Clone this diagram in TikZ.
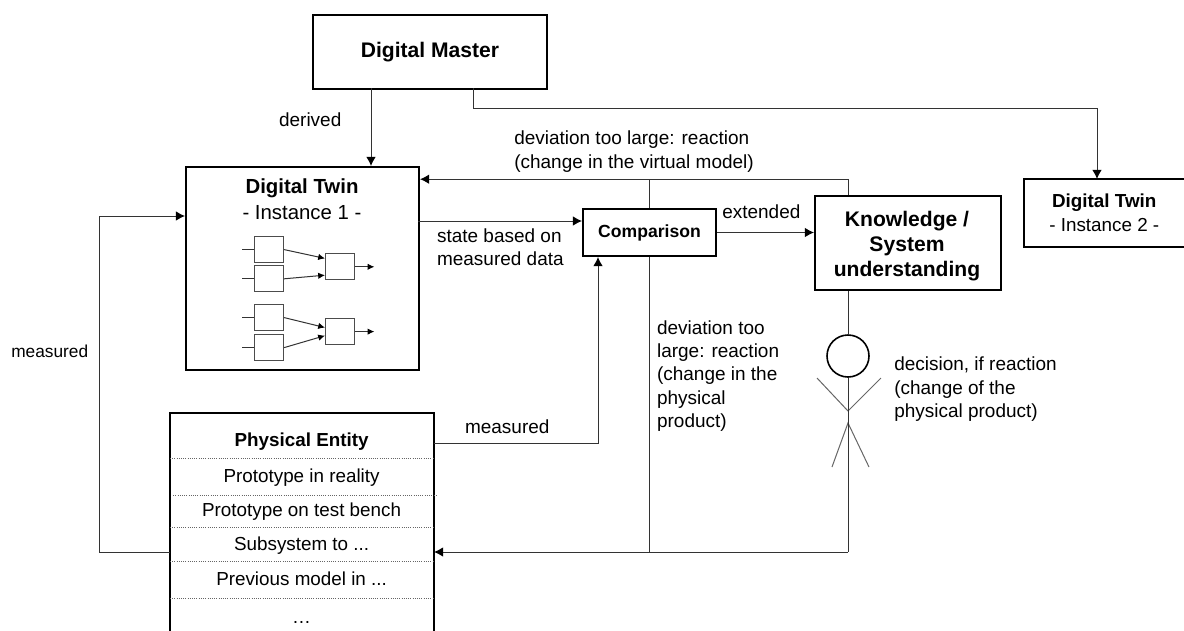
\documentclass[tikz,border=0pt]{standalone}
\usepackage{fontspec}
\setmainfont{Liberation Sans}
\usetikzlibrary{arrows.meta}
\tikzset{
  bigbox/.style={draw=black, line width=0.05cm, fill=white, anchor=north west, inner sep=0cm},
  smallbox/.style={draw=black!70, line width=0.03cm, anchor=north west, minimum width=0.725cm, minimum height=0.65cm, inner sep=0cm},
  flow/.style={black!80, line width=0.025cm, -{Latex[black,length=0.23cm,width=0.24cm]}},
  tinyflow/.style={black!80, line width=0.025cm, -{Latex[black,length=0.17cm,width=0.16cm]}},
  plain/.style={black!80, line width=0.025cm},
  label/.style={anchor=west, align=left, black, font=\fontsize{13.5}{16.5}\selectfont, inner sep=0cm},
  rowtext/.style={anchor=center, black, font=\fontsize{13.4}{16}\selectfont, inner sep=0cm},
  rowline/.style={black!60, line width=0.02cm, densely dotted}
}
\begin{document}
\begin{tikzpicture}
\useasboundingbox (0cm,0cm) rectangle (29.6cm,-15.75cm);

% main boxes
\node [bigbox, minimum width=5.85cm, minimum height=1.85cm, font=\fontsize{15}{18}\selectfont\bfseries] (master) at (7.8cm,-0.35cm) {Digital Master};
\node [bigbox, minimum width=5.825cm, minimum height=5.075cm] (twin) at (4.625cm,-4.15cm) {};
\node [black, align=center, anchor=north, inner sep=0cm, font=\fontsize{14.5}{18.5}\selectfont] (twintext) at (7.55cm,-4.45cm) {\textbf{Digital Twin}\\- Instance 1 -};
\node [bigbox, minimum width=3.325cm, minimum height=1.175cm, font=\fontsize{12.5}{15}\selectfont\bfseries] (compare) at (14.55cm,-5.2cm) {Comparison};
\node [bigbox, minimum width=4.65cm, minimum height=2.35cm] (knowledge) at (20.35cm,-4.875cm) {};
\node [black, align=center, inner sep=0cm, font=\fontsize{15}{17.8}\selectfont\bfseries] (knowtext) at (22.675cm,-6.15cm) {Knowledge /\\System\\understanding};

% second twin runs off the right edge
\node [minimum width=4cm, minimum height=1.675cm, anchor=north west, inner sep=0cm, align=center, font=\fontsize{13.4}{16.4}\selectfont] (twintwo) at (25.6cm,-4.475cm) {\textbf{Digital Twin}\\- Instance 2 -};
\draw [black, line width=0.05cm] (twintwo.north east) -- (twintwo.north west) -- (twintwo.south west) -- (twintwo.south east);

% small blocks inside the twin
\node [smallbox] (blocka) at (6.35cm,-5.9cm) {};
\node [smallbox] (blockb) at (6.35cm,-6.63cm) {};
\node [smallbox] (blockc) at (8.125cm,-6.33cm) {};
\node [smallbox] (blockd) at (6.35cm,-7.6cm) {};
\node [smallbox] (blocke) at (6.35cm,-8.35cm) {};
\node [smallbox] (blockf) at (8.125cm,-7.95cm) {};

\coordinate (ina) at ([xshift=-0.3cm]blocka.west);
\coordinate (inb) at ([xshift=-0.3cm]blockb.west);
\coordinate (ind) at ([xshift=-0.3cm]blockd.west);
\coordinate (ine) at ([xshift=-0.3cm]blocke.west);
\coordinate (outc) at ([xshift=0.48cm]blockc.east);
\coordinate (outf) at ([xshift=0.48cm]blockf.east);

\draw [plain] (ina) -- (blocka.west);
\draw [plain] (inb) -- (blockb.west);
\draw [plain] (ind) -- (blockd.west);
\draw [plain] (ine) -- (blocke.west);
\draw [tinyflow] (blocka.east) -- (blockc.151);
\draw [tinyflow] (blockb.east) -- (blockc.209);
\draw [tinyflow] (blockd.east) -- (blockf.165);
\draw [tinyflow] (blocke.east) -- (blockf.195);
\draw [tinyflow] (blockc.east) -- (outc);
\draw [tinyflow] (blockf.east) -- (outf);

% physical entity, open at the lower edge
\node [minimum width=6.575cm, minimum height=5.425cm, anchor=north west, inner sep=0cm] (entity) at (4.25cm,-10.325cm) {};
\draw [black, line width=0.05cm] (entity.south west) -- (entity.north west) -- (entity.north east) -- (entity.south east);
\node [rowtext, font=\fontsize{13.4}{16}\selectfont\bfseries] (rowtitle) at (7.54cm,-11.05cm) {Physical Entity};
\node [rowtext] (rowone) at (7.54cm,-11.93cm) {Prototype in reality};
\node [rowtext] (rowtwo) at (7.54cm,-12.78cm) {Prototype on test bench};
\node [rowtext] (rowthree) at (7.54cm,-13.65cm) {Subsystem to ...};
\node [rowtext] (rowfour) at (7.54cm,-14.48cm) {Previous model in ...};
\node [rowtext] (rowfive) at (7.54cm,-15.55cm) {…};

\draw [rowline] (4.25cm,-11.45cm) -- (10.825cm,-11.45cm);
\draw [rowline] (4.33cm,-12.375cm) -- (10.9cm,-12.375cm);
\draw [rowline] (4.25cm,-13.175cm) -- (10.825cm,-13.175cm);
\draw [rowline] (4.25cm,-14.025cm) -- (10.825cm,-14.025cm);
\draw [rowline] (4.25cm,-14.95cm) -- (10.825cm,-14.95cm);

% stick figure
\node [draw=black, line width=0.04cm, circle, minimum size=1.05cm, inner sep=0cm] (head) at (21.2cm,-8.9cm) {};
\coordinate (armleft) at (20.425cm,-9.45cm);
\coordinate (armright) at (22.025cm,-9.45cm);
\coordinate (waist) at (21.2cm,-10.275cm);
\coordinate (hip) at (21.2cm,-10.575cm);
\coordinate (legleft) at (20.8cm,-11.675cm);
\coordinate (legright) at (21.725cm,-11.675cm);
\draw [black!60, line width=0.025cm] (armleft) -- (waist) -- (armright);
\draw [black!60, line width=0.025cm] (legleft) -- (hip) -- (legright);

% connectors
\coordinate (masterdown) at (9.275cm,-2.2cm);
\coordinate (masterout) at (11.825cm,-2.2cm);
\coordinate (masterbend) at (11.825cm,-2.7cm);
\coordinate (twotop) at (27.425cm,-2.7cm);
\coordinate (topright) at (21.2cm,-4.48cm);
\coordinate (topmid) at (16.225cm,-4.48cm);
\coordinate (lowright) at (21.2cm,-13.8cm);
\coordinate (lowmid) at (16.225cm,-13.8cm);
\coordinate (lowleft) at (10.85cm,-13.8cm);
\coordinate (feedstart) at (4.25cm,-13.8cm);
\coordinate (feedcorner) at (2.475cm,-13.8cm);
\coordinate (feedtop) at (2.475cm,-5.4cm);
\coordinate (measright) at (14.95cm,-11.08cm);
\coordinate (statein) at (10.45cm,-5.525cm);

\draw [flow] (masterdown) -- (masterdown |- twin.north);
\draw [flow] (masterout) -- (masterbend) -- (twotop) -- (twotop |- twintwo.north);
\draw [flow] (knowledge.north -| topright) -- (topright) -- (twin.east |- topright);
\draw [plain] (compare.north -| topmid) -- (topmid);
\draw [flow] (statein) -- (compare.west |- statein);
\draw [flow] (compare.east) -- (knowledge.west |- compare.east);
\draw [flow] (entity.east |- measright) -- (measright) -- (compare.south -| measright);
\draw [plain] (knowledge.south -| head.north) -- (head.north);
\draw [plain] (head.south) -- (lowright);
\draw [flow] (lowright) -- (lowleft);
\draw [plain] (compare.south -| lowmid) -- (lowmid);
\draw [flow] (feedstart) -- (feedcorner) -- (feedtop) -- (twin.west |- feedtop);

% labels
\node [label] (lblderived) at (6.97cm,-3cm) {derived};
\node [label] (lbllarge) at (12.85cm,-3.79cm) {deviation too large: reaction\\(change in the virtual model)};
\node [label] (lblstate) at (10.92cm,-6.18cm) {state based on\\measured data};
\node [label] (lblext) at (18.05cm,-5.3cm) {extended};
\node [label, font=\fontsize{12.3}{16}\selectfont] (lblmeasl) at (0.275cm,-8.775cm) {measured};
\node [label] (lblmeasr) at (11.62cm,-10.68cm) {measured};
\node [label] (lblphys) at (16.42cm,-9.4cm) {deviation too\\large: reaction\\(change in the\\physical\\product)};
\node [label] (lbldec) at (22.35cm,-9.73cm) {decision, if reaction\\(change of the\\physical product)};
\end{tikzpicture}
\end{document}
